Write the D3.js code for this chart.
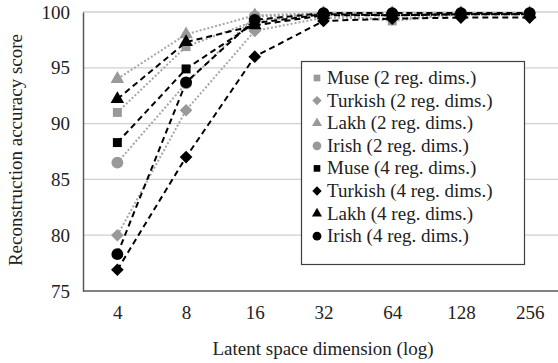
<!DOCTYPE html>
<html><head><meta charset="utf-8">
<script src="https://cdn.jsdelivr.net/npm/d3@7"></script>
</head><body style="margin:0"><svg id="c" width="558" height="363"></svg>
<script>
const dims = ["4","8","16","32","64","128","256"];
const yTicks = [75,80,85,90,95,100];
const seriesNames = ["Muse (2 reg. dims.)","Turkish (2 reg. dims.)","Lakh (2 reg. dims.)","Irish (2 reg. dims.)","Muse (4 reg. dims.)","Turkish (4 reg. dims.)","Lakh (4 reg. dims.)","Irish (4 reg. dims.)"];
const muse2    = [91.0, 96.9, 99.2, 99.8, 99.2, 99.8, 99.9];
const turkish2 = [80.0, 91.2, 98.3, 99.5, 99.4, 99.8, 99.9];
const lakh2    = [94.0, 98.0, 99.7, 99.9, 99.9, 99.9, 99.9];
const irish2   = [86.5, 93.6, 99.6, 99.8, 99.8, 99.9, 99.9];
const muse4    = [88.3, 94.9, 99.0, 99.8, 99.7, 99.8, 99.8];
const turkish4 = [76.9, 87.0, 96.0, 99.2, 99.4, 99.5, 99.5];
const lakh4    = [92.2, 97.3, 98.8, 99.7, 99.7, 99.8, 99.8];
const irish4   = [78.3, 93.7, 99.3, 99.9, 99.9, 99.9, 99.9];
const values = [muse2,turkish2,lakh2,irish2,muse4,turkish4,lakh4,irish4];
const FONT = '"Liberation Serif", "Times New Roman", Tinos';
const diamond = {draw(ctx,size){const r=Math.sqrt(size/2);ctx.moveTo(0,-r);ctx.lineTo(r,0);ctx.lineTo(0,r);ctx.lineTo(-r,0);ctx.closePath();}};
const shapes = [d3.symbolSquare,diamond,d3.symbolTriangle,d3.symbolCircle,d3.symbolSquare,diamond,d3.symbolTriangle,d3.symbolCircle];
const symSize = [80,80,80,110,80,80,80,110];

const svg = d3.select("#c").style("font-family",FONT);
const L=83, R=564, T=12, B=291;
const x = d3.scalePoint().domain(dims).range([L,R]).padding(0.5);
const y = d3.scaleLinear().domain([75,100]).range([B,T]);

function serif(sel){ sel.attr("font-size",19).style("font-family",FONT); }

svg.append("g").selectAll("line").data(yTicks.filter(d=>d>75)).join("line")
  .attr("x1",L).attr("x2",R).attr("y1",d=>y(d)).attr("y2",d=>y(d))
  .attr("stroke","#d0d0d0").attr("stroke-width",1.3);

const ya = svg.append("g").attr("transform",`translate(${L},0)`).call(d3.axisLeft(y).tickValues(yTicks).tickSize(0).tickPadding(13));
ya.attr("font-family",null).attr("font-size",null);
ya.select(".domain").attr("stroke","#595959").attr("stroke-width",1.5);
ya.selectAll("text").call(serif).attr("fill","#222");
const xa = svg.append("g").attr("transform",`translate(0,${B})`).call(d3.axisBottom(x).tickSize(0).tickPadding(15));
xa.attr("font-family",null).attr("font-size",null);
xa.select(".domain").attr("stroke","#595959").attr("stroke-width",1.5).attr("d",`M${L},0H${R}`);
xa.selectAll("text").call(serif).attr("fill","#222");

svg.append("text").attr("x",323).attr("y",355).attr("text-anchor","middle").attr("fill","#222").call(serif).text("Latent space dimension (log)");
svg.append("text").attr("transform","translate(22,150) rotate(-90)").attr("text-anchor","middle").attr("fill","#222").call(serif).text("Reconstruction accuracy score");

const line = d3.line().x((d,i)=>x(dims[i])).y(d=>y(d));
values.forEach((vals,k)=>{
  const gray = k<4;
  const g = svg.append("g");
  g.append("path").datum(vals).attr("d",line).attr("fill","none")
    .attr("stroke",gray?"#a6a6a6":"#000").attr("stroke-width",2)
    .attr("stroke-dasharray",gray?"2,2":"6,4");
  g.selectAll("path.m").data(vals).join("path").attr("class","m")
    .attr("transform",(d,i)=>`translate(${x(dims[i])},${y(d)})`)
    .attr("d",d3.symbol().type(shapes[k]).size(symSize[k]))
    .attr("fill",gray?"#999999":"#000");
});

const lg = svg.append("g");
lg.append("rect").attr("x",301.5).attr("y",61.5).attr("width",223).attr("height",203).attr("fill","#fff").attr("stroke","#404040").attr("stroke-width",1.2);
seriesNames.forEach((n,k)=>{
  const yy = 78 + k*22.6;
  lg.append("path").attr("transform",`translate(317,${yy})`).attr("d",d3.symbol().type(shapes[k]).size(symSize[k]*0.55)).attr("fill",k<4?"#999999":"#000");
  lg.append("text").attr("x",327).attr("y",yy+6).call(serif).attr("fill","#222").text(n);
});
</script></body></html>
